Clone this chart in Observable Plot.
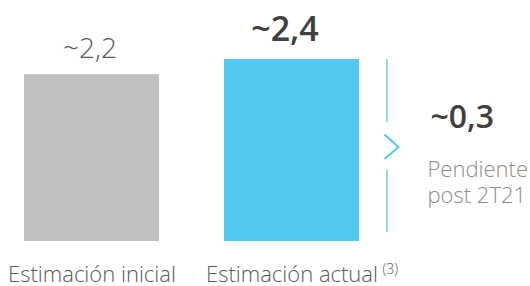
<!DOCTYPE html>
<html>
<head>
<meta charset="utf-8">
<script src="https://cdn.jsdelivr.net/npm/d3@7"></script>
<script src="https://cdn.jsdelivr.net/npm/@observablehq/plot@0.6"></script>
<style>
  html, body { margin: 0; padding: 0; background: #ffffff; }
  #chart svg { display: block; }
</style>
</head>
<body>
<div id="chart"></div>
<script>
// ---- data ----
const categories = ["Estimación inicial", "Estimación actual"];
const values = [2.2, 2.4];
const valueLabels = ["~2,2", "~2,4"];
const barColors = ["#bfbfbf", "#53c8f2"];
const pendingLabel = "~0,3";
const pendingNote = ["Pendiente", "post 2T21"];
const footnote = "(3)";

const rows = categories.map((c, i) => ({category: c, value: values[i], label: valueLabels[i], color: barColors[i]}));
const pending = [{category: categories[1], top: values[1], label: pendingLabel, note: pendingNote.join("\n")}];
const notes = [{category: categories[1], text: footnote}];

const FONT = "'Open Sans', sans-serif";
const BLUE = barColors[1];

const chevron = {
  draw(ctx) {
    ctx.moveTo(-7, -12.5);
    ctx.lineTo(7, 0);
    ctx.lineTo(-7, 12);
  }
};

const chart = Plot.plot({
  width: 530,
  height: 286,
  marginLeft: 0,
  marginRight: 147,
  marginTop: 59,
  marginBottom: 45,
  style: {fontFamily: FONT, background: "#ffffff"},
  x: {domain: categories, paddingInner: 0.325, paddingOuter: 0.12, axis: null},
  y: {domain: [0, 2.4], axis: null},
  color: {type: "identity"},
  marks: [
    Plot.barY(rows, {x: "category", y: "value", fill: "color"}),
    Plot.text(rows.filter((d, i) => i === 0), {
      x: "category", y: "value", text: "label", lineAnchor: "bottom", dy: -17, dx: -2,
      fontSize: 28, fontWeight: 300, fill: "#595959", fontFamily: FONT
    }),
    Plot.text(rows.filter((d, i) => i === 1), {
      x: "category", y: "value", text: "label", lineAnchor: "bottom", dy: -19, dx: -7,
      fontSize: 34, fontWeight: 600, fill: "#404040", fontFamily: FONT
    }),
    // category labels
    Plot.text(rows, {
      x: "category", frameAnchor: "bottom", lineAnchor: "bottom", dy: 40, text: "category",
      fontSize: 22, fontWeight: 300, fill: "#595959", fontFamily: FONT
    }),
    Plot.text(notes, {
      x: "category", frameAnchor: "bottom", lineAnchor: "bottom", dy: 32, dx: 90.5, textAnchor: "start",
      text: "text", fontSize: 14, fontWeight: 300, fill: "#595959", fontFamily: FONT
    }),
    // bracket line with a gap for the chevron
    Plot.ruleX(pending, {x: "category", y1: "top", y2: () => 0, dx: 95, insetBottom: 119, stroke: BLUE, strokeWidth: 1.3}),
    Plot.ruleX(pending, {x: "category", y1: "top", y2: () => 0, dx: 95, insetTop: 111, insetBottom: 9, stroke: BLUE, strokeWidth: 1.3}),
    Plot.dot(pending, {x: "category", frameAnchor: "middle", dx: 99.5, dy: -3.5, symbol: chevron, r: 10, fill: "none", stroke: BLUE, strokeWidth: 2}),
    // pending annotation
    Plot.text(pending, {
      x: "category", frameAnchor: "middle", lineAnchor: "bottom", dx: 138.5, dy: -23, textAnchor: "start",
      text: "label", fontSize: 32, fontWeight: 600, fill: "#404040", fontFamily: FONT
    }),
    Plot.text(pending, {
      x: "category", frameAnchor: "middle", lineAnchor: "top", dx: 135.5, dy: 8.5, textAnchor: "start",
      text: "note", fontSize: 22, lineHeight: 1.18, fontWeight: 300, fill: "#8c8c8c", fontFamily: FONT
    })
  ]
});
document.getElementById("chart").appendChild(chart);
</script>
</body>
</html>
